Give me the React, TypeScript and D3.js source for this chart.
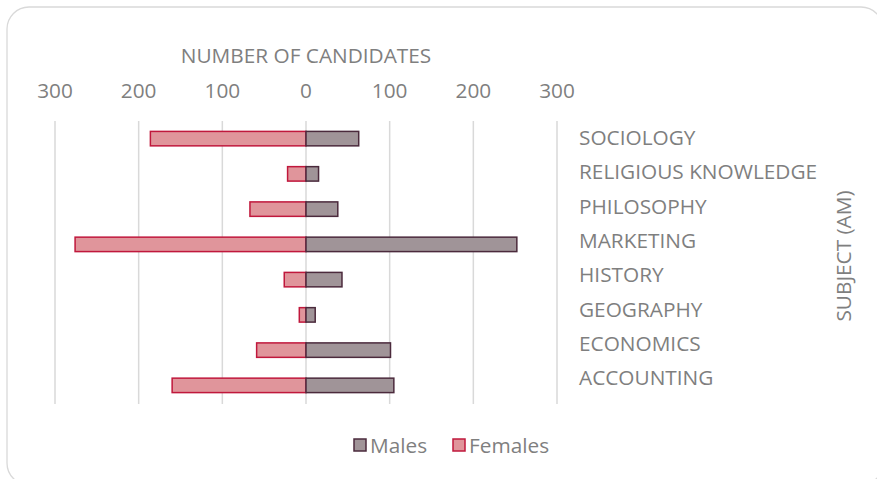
import React from "react";
import * as d3 from "d3";

const categories = ["SOCIOLOGY", "RELIGIOUS KNOWLEDGE", "PHILOSOPHY", "MARKETING", "HISTORY", "GEOGRAPHY", "ECONOMICS", "ACCOUNTING"];
const males = [63, 15, 38, 252, 43, 11, 101, 105];
const females = [186, 22, 67, 276, 26, 8, 59, 160];
const ticks = [-300, -200, -100, 0, 100, 200, 300];
const seriesNames = ["Males", "Females"];

const W = 877, H = 479;
const FONT = "'Open Sans', sans-serif";
const FS = 20.8;
const TXT = "#7f7f7f";
const M_FILL = "#a09498", M_STROKE = "#4b2a3c";
const F_FILL = "#e0959b", F_STROKE = "#c0183c";

export default function App() {
  const x = d3.scaleLinear().domain([-300, 300]).range([55, 557]);
  const p = 0.59;
  const y = d3.scaleBand<string>().domain(categories).range([121, 403]).paddingInner(p).paddingOuter(p / 2);
  const yl = d3.scaleBand<string>().domain(categories).range([120, 394.4]);
  const bw = y.bandwidth();
  return (
    <svg width={W} height={H} style={{ position: "absolute", left: 0, top: 0 }} fontFamily={FONT}>
      <rect x={0} y={0} width={W} height={H} fill="#fff" />
      <rect x={7} y={7} width={876} height={478} rx={22} fill="#fff" stroke="#d9d9d9" strokeWidth={1.3} />
      <text x={x(0)} y={55} textAnchor="middle" dominantBaseline="central" fontSize={FS} fill={TXT}>NUMBER OF CANDIDATES</text>
      {ticks.map((t) => (
        <g key={t}>
          <line x1={x(t)} x2={x(t)} y1={121} y2={404} stroke="#d9d9d9" strokeWidth={1.5} />
          <text x={x(t)} y={90} textAnchor="middle" dominantBaseline="central" fontSize={FS} fill={TXT}>{Math.abs(t)}</text>
        </g>
      ))}
      {categories.map((c, i) => (
        <g key={c}>
          <rect x={x(-females[i])} y={y(c)} width={x(0) - x(-females[i])} height={bw} fill={F_FILL} stroke={F_STROKE} strokeWidth={1.5} />
          <rect x={x(0)} y={y(c)} width={x(males[i]) - x(0)} height={bw} fill={M_FILL} stroke={M_STROKE} strokeWidth={1.5} />
          <text x={579} y={(yl(c) as number) + yl.bandwidth() / 2} dominantBaseline="central" fontSize={FS} fill={TXT}>{c}</text>
        </g>
      ))}
      <text transform={`translate(843,256) rotate(-90)`} textAnchor="middle" dominantBaseline="central" fontSize={FS} fill={TXT}>SUBJECT (AM)</text>
      {seriesNames.map((s, i) => {
        const lx = i === 0 ? 354 : 453;
        return (
          <g key={s}>
            <rect x={lx} y={439} width={12} height={12} fill={i === 0 ? M_FILL : F_FILL} stroke={i === 0 ? M_STROKE : F_STROKE} strokeWidth={1.5} />
            <text x={lx + 16} y={445} dominantBaseline="central" fontSize={FS} fill={TXT}>{s}</text>
          </g>
        );
      })}
    </svg>
  );
}
